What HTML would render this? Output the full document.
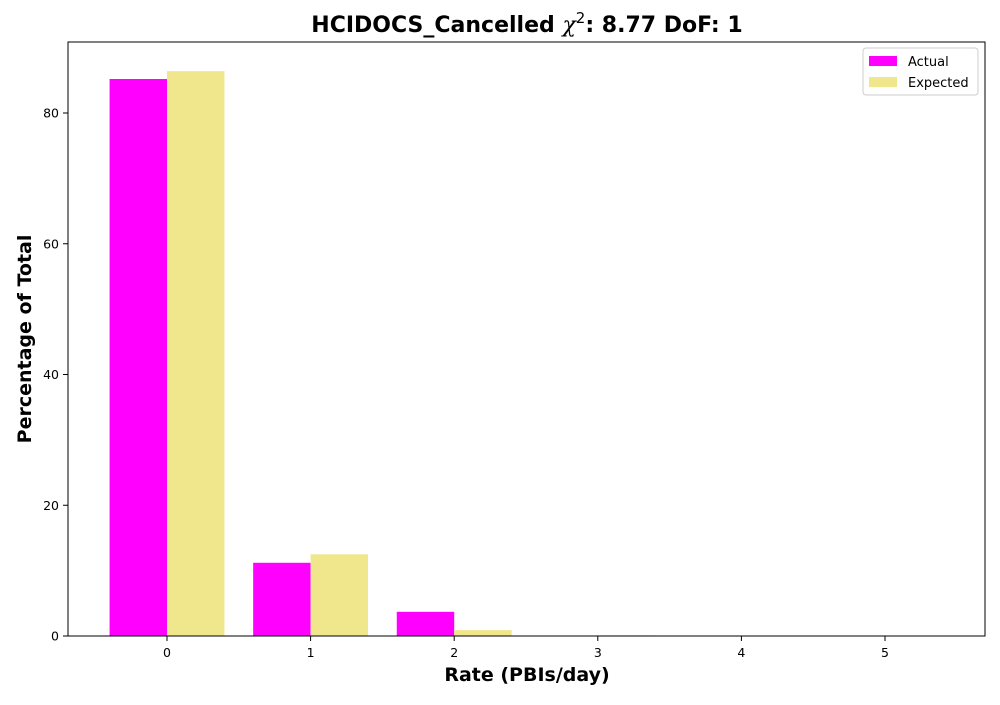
<!DOCTYPE html>
<html><head><meta charset="utf-8"><style>
body{margin:0;background:#fff;}
svg{font-family:"DejaVu Sans","Liberation Sans",sans-serif;}
</style></head><body>
<svg id="chart" width="1000" height="700" xmlns="http://www.w3.org/2000/svg">
<text x="527" y="32" text-anchor="middle" font-size="22" font-weight="bold">HCIDOCS_Cancelled <tspan font-style="italic" font-weight="normal" font-family="DejaVu Serif, serif">χ</tspan><tspan font-size="15" font-weight="normal" dy="-9">2</tspan><tspan dy="9">: 8.77 DoF: 1</tspan></text>
<g id="bars"></g>
<rect x="68" y="42" width="917" height="594" fill="none" stroke="#000" stroke-width="1"/>
<g id="ticks" font-size="12.5"></g>
<text x="527" y="681" text-anchor="middle" font-size="19" font-weight="bold">Rate (PBIs/day)</text>
<text transform="translate(31,339) rotate(-90)" text-anchor="middle" font-size="19" font-weight="bold">Percentage of Total</text>
<g>
<rect x="863" y="48" width="115" height="47" fill="#fff" stroke="#ccc" rx="3"/>
<rect x="869" y="56" width="28" height="10" fill="#ff00ff"/>
<text x="908" y="66" font-size="13">Actual</text>
<rect x="869" y="77" width="28" height="10" fill="#f0e68c"/>
<text x="908" y="87" font-size="13">Expected</text>
</g>
</svg>
<script>
const categories=[0,1,2,3,4,5];
const actual=[85.2,11.2,3.7,0,0,0];
const expected=[86.4,12.5,0.9,0.1,0,0];
const yTicks=[0,20,40,60,80];
const NS="http://www.w3.org/2000/svg";
const xs=v=>167+v*143.6;
const ys=v=>636-v*6.5375;
const bars=document.getElementById('bars');
const ticks=document.getElementById('ticks');
function mk(tag,attrs,parent){const e=document.createElementNS(NS,tag);for(const k in attrs)e.setAttribute(k,attrs[k]);parent.appendChild(e);return e;}
const bw=0.4*143.6;
categories.forEach((c,i)=>{
  const a=mk('rect',{x:xs(c)-bw,y:ys(actual[i]),width:bw,height:ys(0)-ys(actual[i]),fill:'#ff00ff'},bars);
  
  
  const e=mk('rect',{x:xs(c),y:ys(expected[i]),width:bw,height:ys(0)-ys(expected[i]),fill:'#f0e68c'},bars);
  
  
  mk('line',{x1:xs(c),x2:xs(c),y1:636,y2:641,stroke:'#000'},ticks);
  const t=mk('text',{x:xs(c),y:657,'text-anchor':'middle'},ticks);
  t.textContent=c;
  
  
});
yTicks.forEach(v=>{
  mk('line',{x1:63,x2:68,y1:ys(v),y2:ys(v),stroke:'#000'},ticks);
  const t=mk('text',{x:59,y:ys(v)+4.5,'text-anchor':'end'},ticks);
  t.textContent=v;
  
  
});
</script>
</body></html>
